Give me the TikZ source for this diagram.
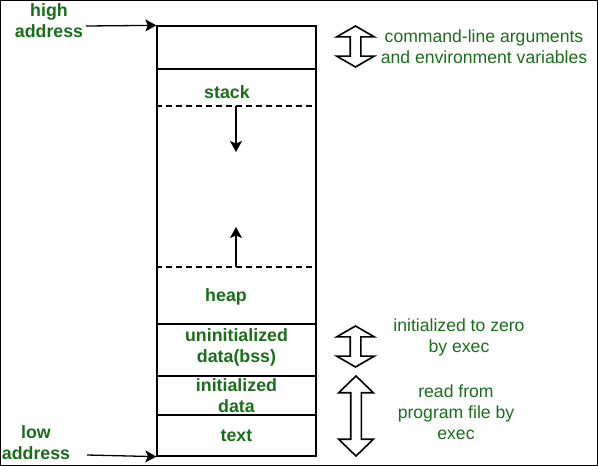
\documentclass[tikz,border=0pt]{standalone}
\usepackage{fontspec}
\setmainfont{Liberation Sans}
\usetikzlibrary{arrows.meta,shapes.arrows}
\definecolor{segtext}{RGB}{25,110,25}

\begin{document}
\begin{tikzpicture}[
x=1pt, y=-1pt,
line width=1.3pt,
seg/.style = {draw, rectangle, minimum width=159pt, inner sep=0pt},
segname/.style = {text=segtext, font=\fontsize{17.8}{21}\selectfont\bfseries, align=center},
remark/.style = {text=segtext, font=\fontsize{17.6}{21}\selectfont, align=center},
pointer/.style = {-{Stealth[length=11pt,width=12pt,inset=2.5pt]}},
spanarrow/.style = {draw, double arrow, rotate=90, line width=1.6pt, inner xsep=0pt, inner ysep=4.5pt}]

\useasboundingbox (0,0) rectangle (598,466);
\draw[line width=1pt] (0.5,0.5) rectangle (597.5,465.5);

% memory segments
\node[seg, minimum height=43pt] (args) at (236.5,47.5) {};
\node[seg, minimum height=255pt] (free) at (236.5,196.5) {};
\node[seg, minimum height=52pt] (bss) at (236.5,350) {};
\node[seg, segname, minimum height=39pt] (data) at (236.5,395.5) {initialized\\data};
\node[seg, segname, minimum height=41pt] (text) at (236.5,435.5) {text};

\node[segname] (stack) at (227,92) {stack};
\node[segname] (heap) at (226,297) {heap};
\node[segname] (bsslabel) at (236.5,347) {uninitialized\\data(bss)};

% growth boundaries
\coordinate (stackend) at (236,106);
\coordinate (heapend) at (236,267);
\draw[dashed, dash pattern=on 6pt off 4pt] (free.west |- stackend) -- (free.east |- stackend);
\draw[dashed, dash pattern=on 6pt off 4pt] (free.west |- heapend) -- (free.east |- heapend);
\coordinate (stackgrow) at (236,152);
\coordinate (heapgrow) at (236,227);
\draw[pointer] (stackend) -- (stackgrow);
\draw[pointer] (heapend) -- (heapgrow);

% addresses
\node[segname] (high) at (49,21) {high\\address};
\node[segname] (low) at (36,443) {low\\address};
\coordinate (highstart) at (86,26);
\coordinate (lowstart) at (87,455);
\draw[pointer] (highstart) -- (args.north west);
\draw[pointer] (lowstart) -- (text.south west);

% right side notes
\node[spanarrow, minimum height=41pt, double arrow head extend=13.5pt, double arrow tip angle=120] (argspan) at (355.5,46.5) {};
\node[spanarrow, minimum height=41pt, double arrow head extend=13.5pt, double arrow tip angle=120] (bssspan) at (355.5,346.5) {};
\node[spanarrow, minimum height=80pt, double arrow head extend=12pt, double arrow tip angle=92] (filespan) at (356,416) {};

\node[remark] (argsnote) at (484,46.5) {command-line arguments\\and environment variables};
\node[remark] (bssnote) at (459,337) {initialized to zero\\by exec};
\node[remark] (filenote) at (456,412) {read from\\program file by\\exec};

\end{tikzpicture}
\end{document}
